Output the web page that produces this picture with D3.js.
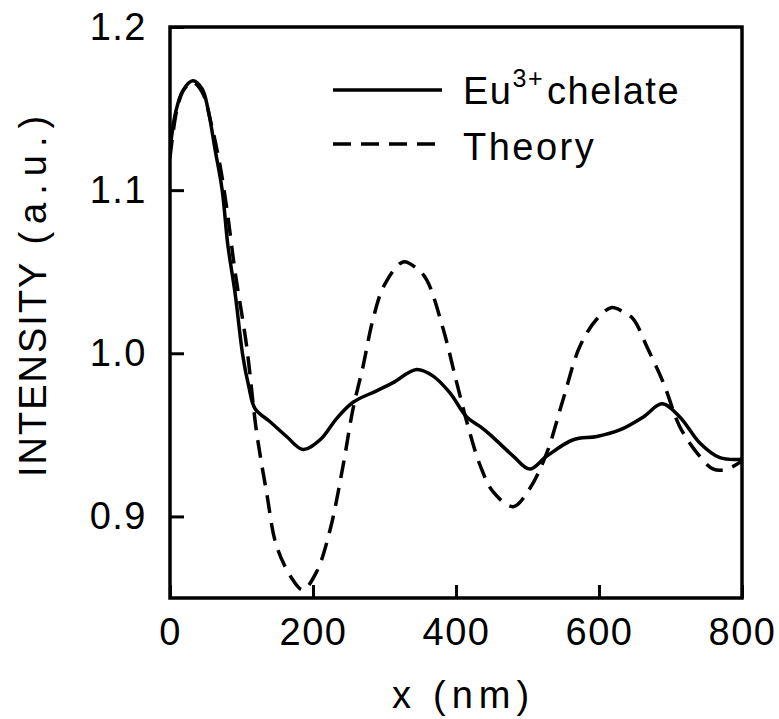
<!DOCTYPE html>
<html lang="en">
<head>
<meta charset="UTF-8">
<title>Intensity vs x</title>
<script src="https://d3js.org/d3.v7.min.js"></script>
<style>
  body { margin: 0; background: #fff; }
  svg text { font-family: "Liberation Sans", Arial, sans-serif; fill: #000; }
  .tick text { font-size: 38px; letter-spacing: 1.5px; }
  .curve { fill: none; stroke: #000; stroke-width: 3.5px; stroke-linejoin: round; }
</style>
</head>
<body>
<div id="chart"></div>
<script>
// Eu3+ chelate (measured)
const euX = [0, 8, 18, 32, 45, 53, 63, 73, 81, 91, 102, 110, 119, 140, 163, 186, 210, 233, 256, 289, 312, 345, 368, 391, 415, 434, 448, 480, 503, 527, 564, 597, 629, 662, 688, 713, 741, 769, 800];
const euY = [1.125, 1.148, 1.161, 1.167, 1.162, 1.150, 1.125, 1.100, 1.066, 1.037, 0.998, 0.980, 0.966, 0.958, 0.949, 0.941, 0.947, 0.960, 0.970, 0.977, 0.982, 0.990, 0.986, 0.976, 0.961, 0.955, 0.950, 0.937, 0.929, 0.937, 0.947, 0.949, 0.953, 0.961, 0.969, 0.961, 0.945, 0.936, 0.935];

// Theory
const thX = [0, 10, 20, 32, 45, 58, 70, 80, 91, 107, 121, 135, 149, 172, 186, 205, 224, 242, 256, 270, 284, 300, 326, 345, 359, 382, 401, 417, 434, 452, 480, 503, 527, 550, 573, 597, 618, 635, 648, 667, 690, 713, 737, 760, 779, 800];
const thY = [1.12, 1.150, 1.162, 1.166, 1.160, 1.140, 1.115, 1.087, 1.050, 1.005, 0.952, 0.915, 0.882, 0.861, 0.855, 0.866, 0.892, 0.931, 0.966, 0.992, 1.021, 1.042, 1.056, 1.052, 1.045, 1.015, 0.982, 0.955, 0.931, 0.915, 0.906, 0.917, 0.939, 0.972, 1.004, 1.021, 1.028, 1.025, 1.021, 1.004, 0.982, 0.955, 0.939, 0.929, 0.929, 0.934];

const xTicks = [0, 200, 400, 600, 800];
const yTicks = [0.9, 1.0, 1.1, 1.2];

const width = 779, height = 719;
const margin = { top: 27, right: 37, bottom: 121, left: 170 };

const svg = d3.select("#chart").append("svg")
    .attr("width", width)
    .attr("height", height);

const x = d3.scaleLinear().domain([0, 800]).range([margin.left, width - margin.right]);
const y = d3.scaleLinear().domain([0.85, 1.2]).range([height - margin.bottom, margin.top]);

svg.append("clipPath").attr("id", "plot")
  .append("rect")
    .attr("x", x(0)).attr("y", y(1.2))
    .attr("width", x(800) - x(0)).attr("height", y(0.85) - y(1.2));

// axes with inward ticks
const xAxis = svg.append("g")
    .attr("transform", `translate(0, ${y(0.85)})`)
    .call(d3.axisBottom(x).tickValues(xTicks).tickSize(-13).tickPadding(20).tickFormat(d3.format("d")));

const yAxis = svg.append("g")
    .attr("transform", `translate(${x(0)}, 0)`)
    .call(d3.axisLeft(y).tickValues(yTicks).tickSize(-14).tickPadding(23).tickFormat(d3.format(".1f")));

[xAxis, yAxis].forEach(g => {
  g.select(".domain").remove();
  g.selectAll(".tick line").attr("stroke", "#000").attr("stroke-width", 3);
});

// frame
svg.append("rect")
    .attr("x", x(0)).attr("y", y(1.2))
    .attr("width", x(800) - x(0)).attr("height", y(0.85) - y(1.2))
    .attr("fill", "none").attr("stroke", "#000").attr("stroke-width", 3.5);

const line = d3.line()
    .x(d => x(d[0]))
    .y(d => y(d[1]))
    .curve(d3.curveCatmullRom.alpha(0.5));

const euData = euX.map((v, i) => [v, euY[i]]);
const thData = thX.map((v, i) => [v, thY[i]]);

const plot = svg.append("g").attr("clip-path", "url(#plot)");

plot.append("path")
    .attr("class", "curve")
    .attr("d", line(thData))
    .attr("stroke-dasharray", "18,10");

plot.append("path")
    .attr("class", "curve")
    .attr("d", line(euData));

// legend
svg.append("line")
    .attr("x1", 333).attr("x2", 442).attr("y1", 90).attr("y2", 90)
    .attr("stroke", "#000").attr("stroke-width", 3.5);
svg.append("line")
    .attr("x1", 333).attr("x2", 442).attr("y1", 144).attr("y2", 144)
    .attr("stroke", "#000").attr("stroke-width", 3.5)
    .attr("stroke-dasharray", "18,10");

const eu = svg.append("text")
    .attr("x", 463).attr("y", 104)
    .style("font-size", "38px")
    .style("letter-spacing", "1.5px");
eu.append("tspan").text("Eu");
eu.append("tspan").attr("dy", -17).style("font-size", "25px").text("3+");
eu.append("tspan").attr("dy", 17).attr("dx", 3).text("chelate");

svg.append("text")
    .attr("x", 463).attr("y", 160)
    .style("font-size", "38px")
    .style("letter-spacing", "2.5px")
    .text("Theory");

// axis titles
const xt = svg.append("text")
    .attr("x", 392)
    .attr("y", 708)
    .style("font-size", "38px");
xt.append("tspan").text("x");
xt.append("tspan").attr("dx", 22).style("letter-spacing", "6px").text("(nm)");

const yt = svg.append("text")
    .attr("transform", "translate(46, 477) rotate(-90)")
    .style("font-size", "38px");
yt.append("tspan").style("letter-spacing", "2px").text("INTENSITY");
yt.append("tspan").attr("dx", 16).style("letter-spacing", "8px").text("(a.u.)");
</script>
</body>
</html>
